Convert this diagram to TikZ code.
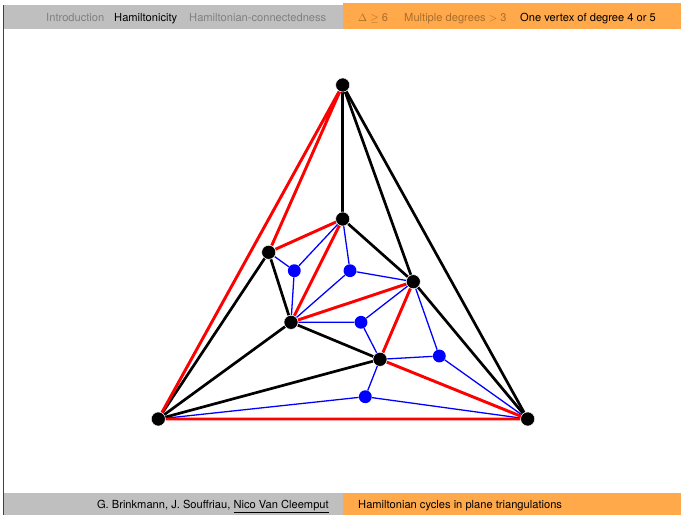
\documentclass[tikz,border=0pt]{standalone}
\usepackage{amsmath,amssymb}
\usepackage{fontspec}
\setmainfont{TeX Gyre Heros}
\usetikzlibrary{positioning,backgrounds}
\usepackage{xcolor}
\definecolor{bargray}{RGB}{191,191,191}
\definecolor{barorange}{RGB}{255,169,74}
\definecolor{dimgray}{RGB}{128,128,128}
\definecolor{dimorange}{RGB}{170,110,45}

\begin{document}
\begin{tikzpicture}[
        x=0.03cm, y=-0.03cm,
        vertex/.style={circle, draw=white, line width=0.4pt, fill=black, inner sep=0pt, minimum size=12pt},
        dualvertex/.style={circle, fill=blue, inner sep=0pt, minimum size=11pt},
        plain/.style={line width=2.3pt},
        cycleedge/.style={red, line width=2.5pt},
        dualedge/.style={blue, line width=1.1pt},
        bartext/.style={font=\fontsize{9.5}{11}\selectfont, inner sep=0pt, anchor=base west},
        line cap=round
      ]
      \useasboundingbox (0,0) rectangle (681,515);
      % header and footer bars
      \fill[bargray] (3,5) rectangle (343,29);
      \fill[barorange] (343,3) rectangle (681,29);
      \fill[bargray] (3,493) rectangle (343,515);
      \fill[barorange] (343,493) rectangle (681,515);
      \draw[black!75, line width=1pt, line cap=butt] (3.5,5) -- (3.5,515);
      \node[bartext, text=dimgray] (intro) at (46,22) {Introduction};
      \node[bartext] (hamil) at (114,22) {Hamiltonicity};
      \node[bartext, text=dimgray] (hconn) at (189,22) {Hamiltonian-connectedness};
      \node[bartext, text=dimorange] (delta) at (358,22) {$\Delta\geq$ 6};
      \node[bartext, text=dimorange] (multi) at (404,22) {Multiple degrees $>$ 3};
      \node[bartext] (onev) at (520,22) {One vertex of degree 4 or 5};
      \node[bartext, anchor=base east] (authors) at (329,508) {G. Brinkmann, J. Souffriau, \underline{Nico Van Cleemput}};
      \node[bartext] (title) at (358,508) {Hamiltonian cycles in plane triangulations};

      % triangulation
      \node[vertex] (t) at (342.7,85) {};
      \node[vertex] (c) at (342.7,219) {};
      \node[vertex] (l) at (268.7,252.3) {};
      \node[vertex] (r) at (413.3,281.7) {};
      \node[vertex] (m) at (291,322.3) {};
      \node[vertex] (b) at (380,359.3) {};
      \node[vertex] (bl) at (158.3,419) {};
      \node[vertex] (br) at (527.7,419) {};
      % dual vertices
      \node[dualvertex] (d1) at (294.3,270.7) {};
      \node[dualvertex] (d2) at (350,270.7) {};
      \node[dualvertex] (d3) at (361,322.3) {};
      \node[dualvertex] (d4) at (439.3,356) {};
      \node[dualvertex] (d5) at (365.3,396.7) {};

      \begin{scope}[on background layer]
      \draw[dualedge] (l) -- (d1) -- (c);
      \draw[dualedge] (d1) -- (m);
      \draw[dualedge] (c) -- (d2) -- (r);
      \draw[dualedge] (d2) -- (m);
      \draw[dualedge] (m) -- (d3) -- (r);
      \draw[dualedge] (d3) -- (b);
      \draw[dualedge] (r) -- (d4) -- (b);
      \draw[dualedge] (d4) -- (br);
      \draw[dualedge] (b) -- (d5) -- (bl);
      \draw[dualedge] (d5) -- (br);
      \draw[plain] (t) -- (c);
      \draw[plain] (t) -- (r);
      \draw[plain] (t) -- (br);
      \draw[plain] (c) -- (r);
      \draw[plain] (r) -- (br);
      \draw[plain] (l) -- (m);
      \draw[plain] (l) -- (bl);
      \draw[plain] (m) -- (bl);
      \draw[plain] (m) -- (b);
      \draw[plain] (b) -- (bl);
      \draw[cycleedge] (t) -- (l) -- (c) -- (m) -- (r) -- (b) -- (br) -- (bl) -- (t);
      \end{scope}
    \end{tikzpicture}
\end{document}
